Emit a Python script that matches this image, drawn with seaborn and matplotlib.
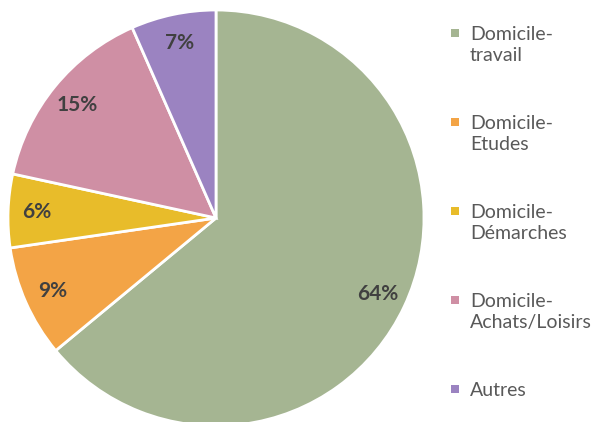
import matplotlib
matplotlib.use("Agg")
import matplotlib.pyplot as plt
import seaborn as sns
from matplotlib.patches import Rectangle, Wedge
from matplotlib.legend_handler import HandlerPatch

sns.set_theme(style="white")
plt.rcParams['font.family'] = ['Lato', 'DejaVu Sans']

categories = ["Domicile-\ntravail", "Domicile-\nEtudes", "Domicile-\nDémarches",
              "Domicile-\nAchats/Loisirs", "Autres"]
shares = [64.0, 8.7, 5.7, 15.0, 6.6]
colors = ["#A5B592", "#F3A446", "#E8BC2A", "#CF8FA4", "#9B83C1"]

palette = sns.color_palette(colors)
LINE_SP = 1.24


class TopAlignedSquare(HandlerPatch):
    # put the square next to the first line of a two-line label
    def create_artists(self, legend, orig_handle, xdescent, ydescent,
                       width, height, fontsize, trans):
        size = 0.42 * fontsize
        n_lines = getattr(orig_handle, "_n_lines", 1)
        shift = (n_lines - 1) * fontsize * LINE_SP / 2
        p = Rectangle((width / 2 - size / 2 - xdescent,
                       height / 2 - size / 2 - ydescent + shift),
                      size, size, facecolor=orig_handle.get_facecolor(),
                      edgecolor="none", transform=trans)
        return [p]


fig = plt.figure(figsize=(6, 4.22), dpi=100)
ax = fig.add_axes([8 / 600, -4 / 422, 416 / 600, 416 / 422])

wedges, texts, autotexts = ax.pie(
    shares, colors=palette, startangle=90, counterclock=False,
    autopct=lambda p: f"{p:.0f}%", pctdistance=0.86, radius=1,
    wedgeprops=dict(edgecolor="white", linewidth=2))
for t in autotexts:
    t.set_color("#404040")
    t.set_fontweight("bold")
    t.set_fontsize(15)
ax.set_xlim(-1, 1)
ax.set_ylim(-1, 1)
ax.set_aspect("equal")

for w, lab in zip(wedges, categories):
    w._n_lines = lab.count("\n") + 1

leg = fig.legend(wedges, categories, loc="upper left",
                 bbox_to_anchor=(431 / 600, 1 - 9 / 422),
                 frameon=False, fontsize=14, labelspacing=2.65,
                 handlelength=0.7, handletextpad=0.4,
                 handler_map={Wedge: TopAlignedSquare()})
for t in leg.get_texts():
    t.set_color("#595959")
    t.set_linespacing(LINE_SP)

fig.savefig("out.png", dpi=100)
